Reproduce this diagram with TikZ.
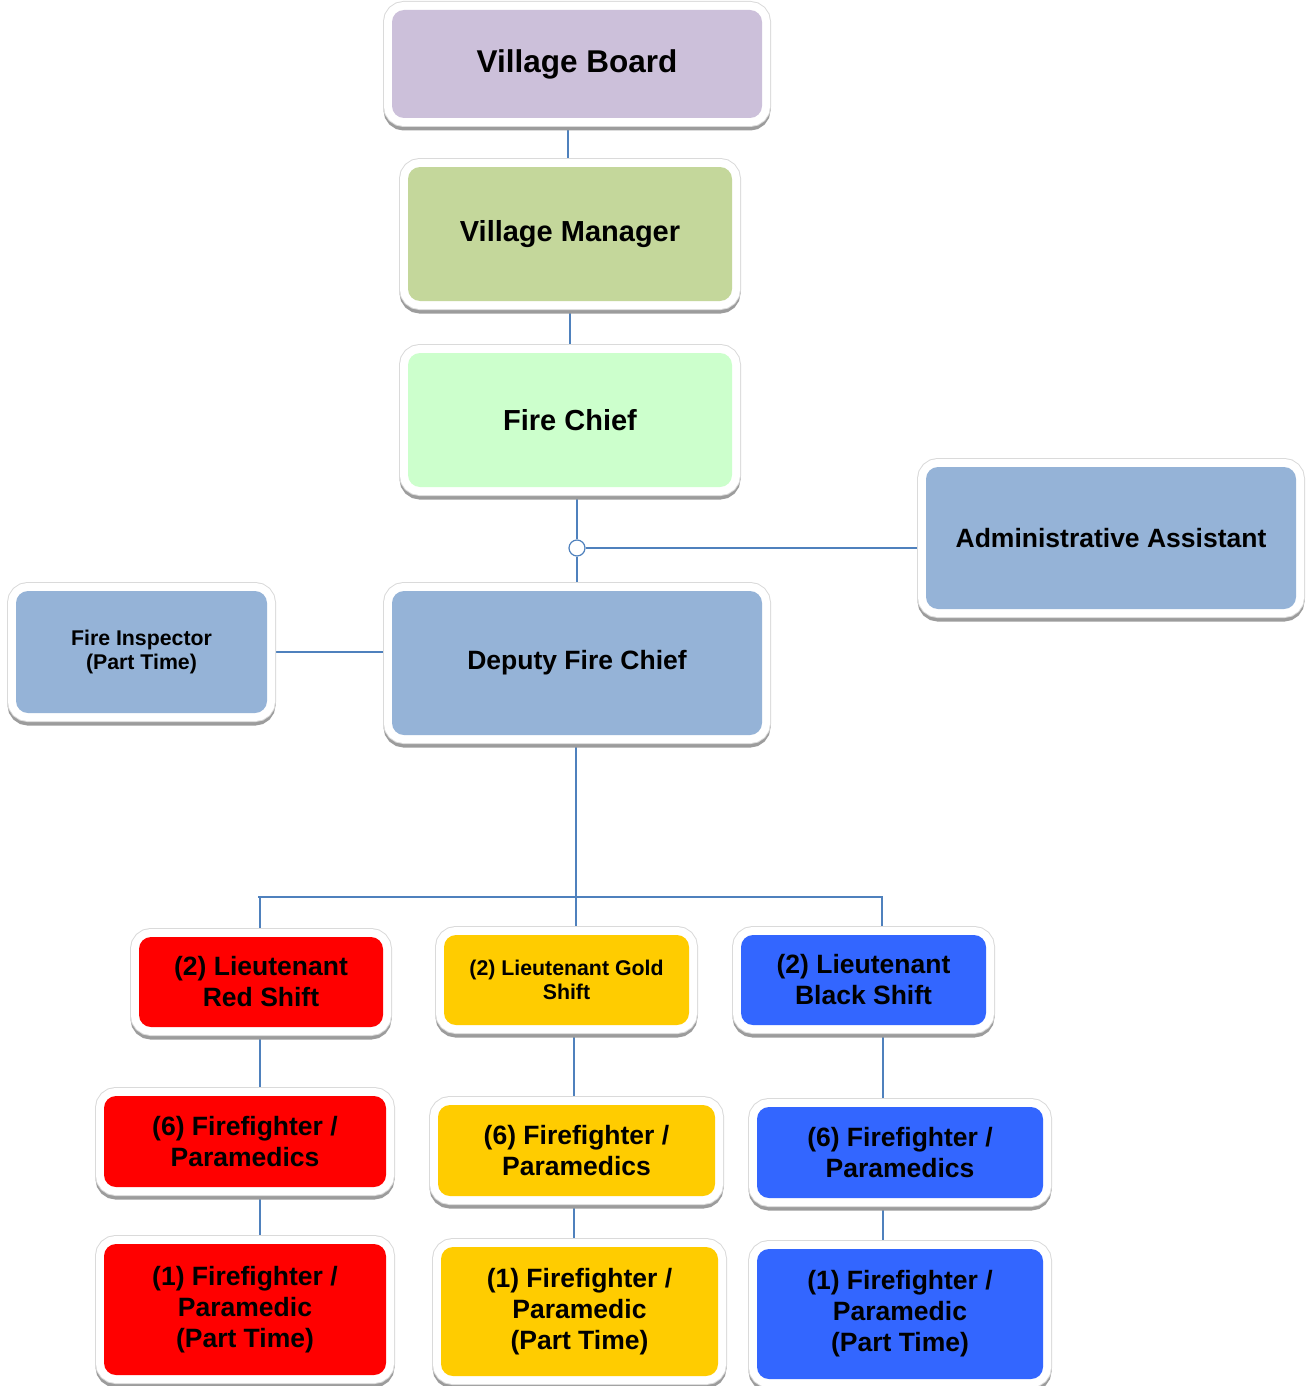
\documentclass[tikz,border=0pt]{standalone}
\usepackage{fontspec}
\setmainfont{Liberation Sans}
\usetikzlibrary{backgrounds}
\definecolor{lnblue}{HTML}{4F81BD}
\definecolor{cvb}{HTML}{CCC0DA}
\definecolor{cvm}{HTML}{C4D79B}
\definecolor{cfc}{HTML}{CCFFCC}
\definecolor{cbl}{HTML}{95B3D7}
\definecolor{cred}{HTML}{FF0000}
\definecolor{cgold}{HTML}{FFCC00}
\definecolor{cblue}{HTML}{3366FF}
\definecolor{shd}{HTML}{9C9C9C}
\definecolor{edgegray}{HTML}{DADADA}
\tikzset{
  orgbox/.style={rounded corners=12pt, inner sep=0pt, align=center, draw=none,
    preaction={draw=shd, line width=17pt, transform canvas={yshift=-4pt}},
    preaction={draw=edgegray, line width=18pt},
    preaction={draw=white, line width=16pt}},
  fXL/.style={font=\fontsize{31.5}{36}\selectfont\bfseries},
  fL/.style={font=\fontsize{29}{34}\selectfont\bfseries},
  fM/.style={font=\fontsize{26.5}{31}\selectfont\bfseries},
  fS/.style={font=\fontsize{21.3}{24}\selectfont\bfseries},
  conn/.style={draw=lnblue, line width=1.6pt},
  junction/.style={circle, draw=lnblue, fill=white, line width=1.2pt, minimum size=16pt, inner sep=0pt}
}
\begin{document}
\begin{tikzpicture}[x=1pt,y=-1pt]
\path[use as bounding box] (0,0) rectangle (1309,1386);
% boxes
\node[orgbox, fill=cvb, minimum width=370pt, minimum height=108pt, fXL] (vb) at (577,64) {Village Board};
\node[orgbox, fill=cvm, minimum width=324pt, minimum height=134pt, fL] (vm) at (570,234) {Village Manager};
\node[orgbox, fill=cfc, minimum width=324pt, minimum height=134pt, fL] (fc) at (570,420) {Fire Chief};
\node[orgbox, fill=cbl, minimum width=370pt, minimum height=142pt, fM] (aa) at (1111,538) {Administrative Assistant};
\node[orgbox, fill=cbl, minimum width=370pt, minimum height=144pt, fM] (dfc) at (577,663) {Deputy Fire Chief};
\node[orgbox, fill=cbl, minimum width=251pt, minimum height=122pt, fS] (fi) at (141.5,652) {Fire Inspector\\(Part Time)};
\node[orgbox, fill=cred, minimum width=244pt, minimum height=90pt, fM] (ltr) at (261,982) {(2) Lieutenant\\Red Shift};
\node[orgbox, fill=cgold, minimum width=245pt, minimum height=90pt, fS] (ltg) at (566.5,980) {(2) Lieutenant Gold\\Shift};
\node[orgbox, fill=cblue, minimum width=245pt, minimum height=90pt, fM] (ltb) at (863.5,980) {(2) Lieutenant\\Black Shift};
\node[orgbox, fill=cred, minimum width=282pt, minimum height=91pt, fM] (ffr) at (245,1141.5) {(6) Firefighter /\\Paramedics};
\node[orgbox, fill=cgold, minimum width=277pt, minimum height=91pt, fM] (ffg) at (576.5,1150.5) {(6) Firefighter /\\Paramedics};
\node[orgbox, fill=cblue, minimum width=286pt, minimum height=91pt, fM] (ffb) at (900,1152.5) {(6) Firefighter /\\Paramedics};
\node[orgbox, fill=cred, minimum width=282pt, minimum height=131pt, fM] (ptr) at (245,1309.5) {(1) Firefighter /\\Paramedic\\(Part Time)};
\node[orgbox, fill=cgold, minimum width=277pt, minimum height=129pt, fM] (ptg) at (579.5,1311.5) {(1) Firefighter /\\Paramedic\\(Part Time)};
\node[orgbox, fill=cblue, minimum width=286pt, minimum height=130pt, fM] (ptb) at (900,1314) {(1) Firefighter /\\Paramedic\\(Part Time)};
% helper coordinates
\coordinate (xVB) at (568,0);
\coordinate (xFC) at (577,0);
\coordinate (bus) at (576,897);
\coordinate (xR) at (260,0);
\coordinate (xG) at (576,0);
\coordinate (xGl) at (574,0);
\coordinate (xB) at (882,0);
\coordinate (xBl) at (883,0);
\node[junction] (jn) at (577,548) {};
\begin{scope}[on background layer]
  \draw[conn] (vb.south -| xVB) -- (vm.north -| xVB);
  \draw[conn] (vm.south) -- (fc.north);
  \draw[conn] (fc.south -| xFC) -- (jn.north);
  \draw[conn] (jn.south) -- (dfc.north -| xFC);
  \draw[conn] (jn.east) -- (jn.east -| aa.west);
  \draw[conn] (fi.east) -- (fi.east -| dfc.west);
  \draw[conn] (dfc.south -| bus) -- (bus);
  \draw[conn] (bus -| 258,0) -- (bus -| 883,0);
  \draw[conn] (bus -| xR) -- (ltr.north -| xR);
  \draw[conn] (bus -| xG) -- (ltg.north -| xG);
  \draw[conn] (bus -| xB) -- (ltb.north -| xB);
  \draw[conn] (ltr.south -| xR) -- (ffr.north -| xR);
  \draw[conn] (ffr.south -| xR) -- (ptr.north -| xR);
  \draw[conn] (ltg.south -| xGl) -- (ffg.north -| xGl);
  \draw[conn] (ffg.south -| xGl) -- (ptg.north -| xGl);
  \draw[conn] (ltb.south -| xBl) -- (ffb.north -| xBl);
  \draw[conn] (ffb.south -| xBl) -- (ptb.north -| xBl);
\end{scope}
\end{tikzpicture}
\end{document}
